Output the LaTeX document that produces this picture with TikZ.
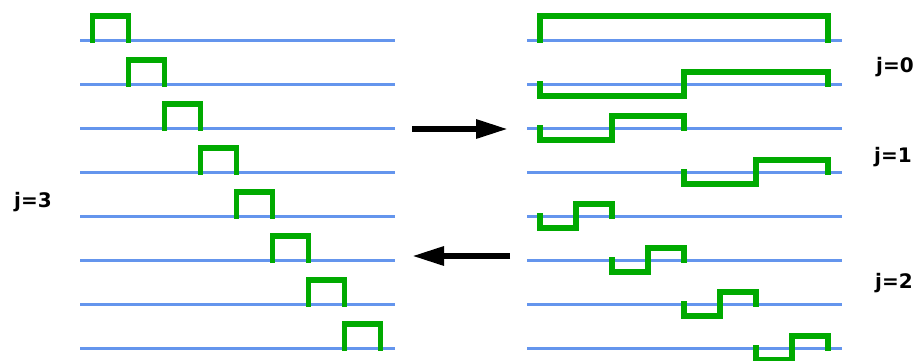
\documentclass[tikz,border=0pt]{standalone}
\usepackage{fontspec}
\setmainfont{DejaVu Sans}
\usetikzlibrary{arrows.meta}
\definecolor{axisblue}{RGB}{100,149,237}
\definecolor{wavegreen}{RGB}{0,170,0}

\begin{document}
\begin{tikzpicture}[x=1pt, y=-1pt]
        \tikzstyle{axis}=[draw=axisblue, line width=3pt]
        \tikzstyle{wave}=[draw=wavegreen, line width=5.5pt, line cap=rect, line join=miter]
        \tikzstyle{bigarrow}=[draw=black, line width=6pt, -{Triangle[length=32pt, width=18pt]}]
        \tikzstyle{level}=[font=\bfseries\fontsize{20}{24}\selectfont, anchor=base, inner sep=0pt]
        \useasboundingbox (0,0) rectangle (919,360);
        % left: box functions at level 3
        \foreach \k in {0,...,7} {
            \pgfmathsetmacro{\yy}{40+44*\k}
            \pgfmathsetmacro{\xx}{92.5+36*\k}
            \draw[axis] (80,\yy) -- (395,\yy);
            \draw[wave] (\xx,\yy) -- ++(0,-24) -- ++(36,0) -- ++(0,24);
        }
        % right: scaling function and wavelets
        \foreach \k in {0,...,7} {
            \pgfmathsetmacro{\yy}{40+44*\k}
            \draw[axis] (527,\yy) -- (842,\yy);
        }
        \draw[wave] (540,40) -- (540,16) -- (828,16) -- (828,40);
        \foreach \a/\w/\yy in {540/288/84, 540/144/128, 684/144/172,
                               540/72/216, 612/72/260, 684/72/304, 756/72/348} {
            \draw[wave] (\a,\yy) -- ++(0,12) -- ++(\w/2,0) -- ++(0,-24) -- ++(\w/2,0) -- ++(0,12);
        }
        % arrows
        \coordinate (fwdA) at (412,129);
        \coordinate (fwdB) at (508,129);
        \coordinate (invA) at (510,256);
        \coordinate (invB) at (412,256);
        \draw[bigarrow] (fwdA) -- (fwdB);
        \draw[bigarrow] (invA) -- (invB);
        % level labels
        \node[level] (j0) at (895,72) {j=0};
        \node[level] (j1) at (893,162) {j=1};
        \node[level] (j2) at (894,288) {j=2};
        \node[level] (j3) at (33,207) {j=3};
    \end{tikzpicture}
\end{document}
